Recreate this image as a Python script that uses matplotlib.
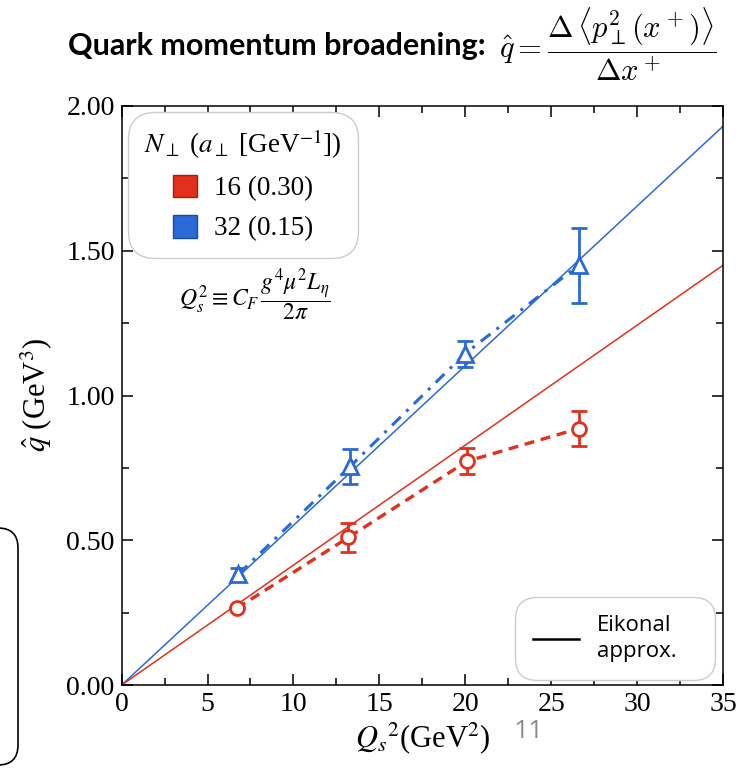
import matplotlib
matplotlib.use("Agg")
import matplotlib.pyplot as plt
from matplotlib.patches import Patch, FancyBboxPatch
from matplotlib.lines import Line2D

plt.rcParams["font.family"] = "Liberation Serif"
plt.rcParams["mathtext.fontset"] = "stix"

# values
qs2_red = [6.7, 13.2, 20.1, 26.6]
qhat_red = [0.265, 0.51, 0.773, 0.886]
err_red = [0.0, 0.05, 0.045, 0.06]

qs2_blue = [6.8, 13.3, 20.0, 26.6]
qhat_blue = [0.383, 0.755, 1.145, 1.45]
err_blue = [0.02, 0.06, 0.045, 0.13]

# eikonal approximation lines (straight from origin)
eik_x = [0, 35]
eik_red = [0, 1.45]
eik_blue = [0, 1.93]

xticks = [0, 5, 10, 15, 20, 25, 30, 35]
yticks = [0.0, 0.5, 1.0, 1.5, 2.0]
ytick_labels = ["0.00", "0.50", "1.00", "1.50", "2.00"]
legend_labels = ["16 (0.30)", "32 (0.15)"]

red = "#e2301c"
blue = "#2a6ad6"

fig = plt.figure(figsize=(7.37, 7.68), dpi=100)
ax = fig.add_axes([0.165, 0.108, 0.816, 0.754])

ax.plot(eik_x, eik_blue, color=blue, lw=1.1)
ax.plot(eik_x, eik_red, color=red, lw=1.1)

ax.plot(qs2_blue, qhat_blue, color=blue, lw=2.2, ls=(0, (4, 2.5, 1, 2.5)))
ax.plot(qs2_red, qhat_red, color=red, lw=2.4, ls=(0, (3, 2)))

ax.errorbar(qs2_blue, qhat_blue, yerr=err_blue, fmt="^", color=blue, mfc="white",
            mec=blue, ms=12, mew=2, elinewidth=2, capsize=6, capthick=2, zorder=5)
ax.errorbar(qs2_red, qhat_red, yerr=err_red, fmt="o", color=red, mfc="white",
            mec=red, ms=10, mew=2, elinewidth=2, capsize=6, capthick=2, zorder=5)

ax.set_xlim(0, 35)
ax.set_ylim(0, 2.0)
ax.set_xticks(xticks)
ax.set_yticks(yticks)
ax.set_yticklabels(ytick_labels)
ax.set_xticks([2.5 + 5 * i for i in range(7)], minor=True)
ax.set_yticks([0.25, 0.75, 1.25, 1.75], minor=True)
ax.tick_params(which="both", direction="in", top=True, right=True, labelsize=20, width=1.1)
ax.tick_params(which="major", length=8, pad=5)
ax.tick_params(which="minor", length=5)
for s in ax.spines.values():
    s.set_linewidth(1.1)

ax.set_xlabel(r"$Q_s{}^2$(GeV$^2$)", fontsize=22, labelpad=2)
ax.set_ylabel(r"$\hat{q}$ (GeV$^3$)", fontsize=22, labelpad=9)

handles = [Patch(facecolor=red, edgecolor="#a02010"), Patch(facecolor=blue, edgecolor="#1a4aa0")]
leg1 = ax.legend(handles, legend_labels, title=r"$N_{\perp}$ ($a_{\perp}$ [GeV$^{-1}$])",
                 loc="upper left", bbox_to_anchor=(0.0105, 0.99), borderaxespad=0,
                 fontsize=19.5, title_fontsize=19.5, handlelength=0.9, handleheight=0.9,
                 handletextpad=0.6, labelspacing=0.5, borderpad=0.6, fancybox=True,
                 framealpha=1, edgecolor="#cccccc")
leg1.get_frame().set_boxstyle("round,pad=0,rounding_size=1.0")
ax.add_artist(leg1)

leg2 = ax.legend([Line2D([], [], color="black", lw=1.8)], ["Eikonal\napprox."],
                 loc="lower left", bbox_to_anchor=(0.654, 0.0086, 0.333, 0.146), mode="expand",
                 borderaxespad=0, prop={"family": "Open Sans", "size": 16}, handlelength=2.1,
                 handletextpad=0.8, borderpad=0.8, fancybox=True, framealpha=1,
                 edgecolor="#cccccc")
leg2.get_frame().set_boxstyle("round,pad=0,rounding_size=1.0")
leg2.get_texts()[0].set_linespacing(1.35)

ax.text(0.222, 0.673, r"$Q_s^2 \equiv C_F\,\dfrac{g^4\mu^2L_\eta}{2\pi}$", transform=ax.transAxes,
        ha="center", va="center", fontsize=17)

# slide title
fig.text(0.092, 0.94, "Quark momentum broadening:", family="Lato", weight="bold",
         fontsize=22, ha="left", va="center")
fig.text(0.677, 0.942, r"$\hat{q} = \dfrac{\Delta\,\langle p_\perp^2(x^+)\rangle}{\Delta x^+}$",
         math_fontfamily="cm", fontsize=22, ha="left", va="center")

# slide number
fig.text(0.718, 0.048, "11", family="Open Sans", fontsize=19, color="#8a8a8a",
         ha="center", va="center")

# piece of a rounded slide box at lower left
box = FancyBboxPatch((-1.0, 0.03), 1.18, 2.37, boxstyle="round,pad=0,rounding_size=0.2",
                     transform=fig.dpi_scale_trans, facecolor="none", edgecolor="black",
                     lw=1.2, clip_on=False)
fig.patches.append(box)

fig.savefig("out.png", dpi=100)
